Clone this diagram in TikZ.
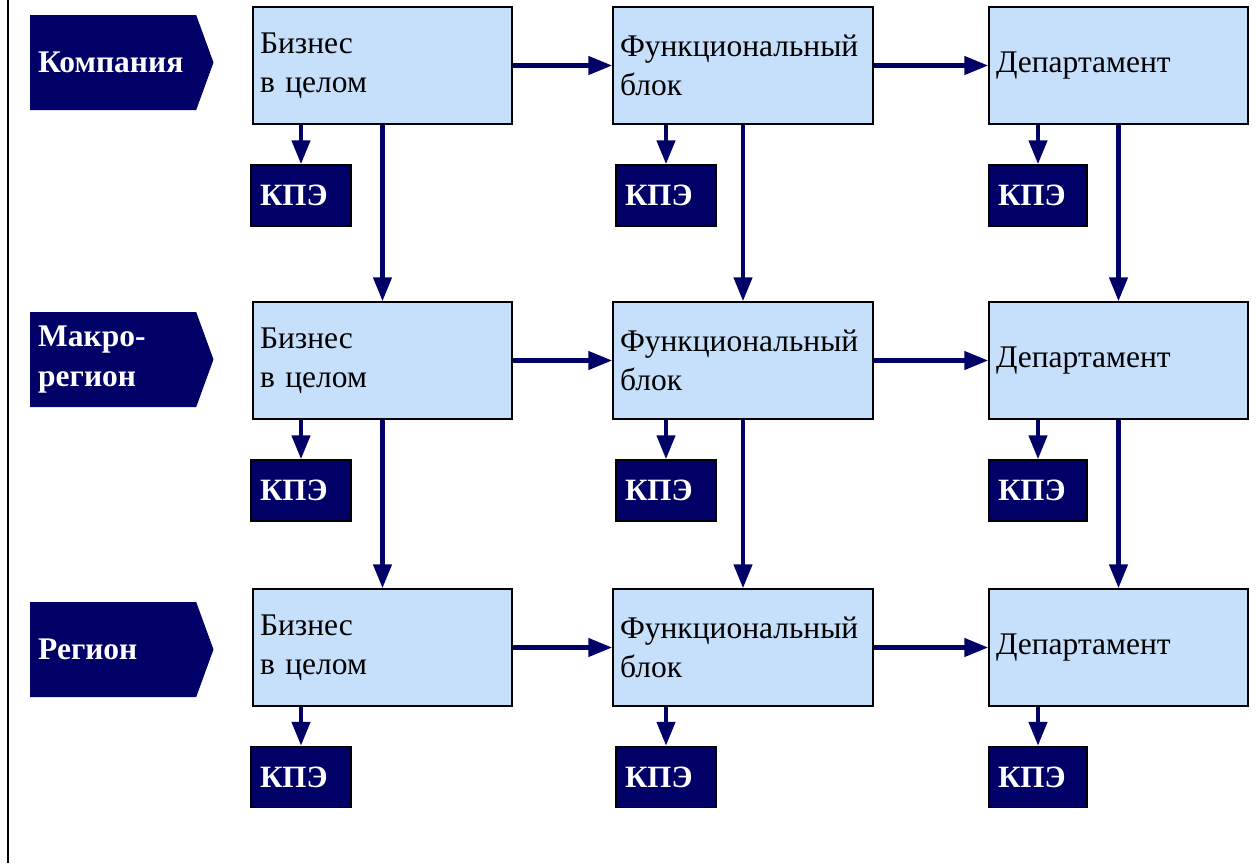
\documentclass[tikz,border=0pt]{standalone}
\usepackage{fontspec}
\setmainfont{Liberation Serif}
\usetikzlibrary{shapes.symbols,arrows.meta}
\definecolor{navy}{HTML}{000066}
\definecolor{paleblue}{HTML}{C6DFFB}
\begin{document}
\begin{tikzpicture}[x=1pt,y=-1pt,
    unit/.style={draw, line width=1.5pt, fill=paleblue, minimum height=117pt,
        inner xsep=7pt, align=left, font=\fontsize{31.5}{39}\selectfont},
    kpe/.style={draw, line width=1.5pt, fill=navy, text=white, minimum height=61pt,
        inner xsep=9pt, align=left, font=\fontsize{31}{34}\selectfont\bfseries},
    level/.style={signal, signal to=east, signal pointer angle=140, fill=navy,
        text=white, minimum height=95pt, text width=150pt, inner xsep=8pt,
        align=left, font=\fontsize{31.5}{40}\selectfont\bfseries},
    flow/.style={draw=navy, line width=4.5pt, -{Triangle[length=24pt,width=18pt]}}]
            \useasboundingbox (0,0) rectangle (1259,863);
            \draw [line width=1.5pt](8,0)--(8,863);
            %Levels
            \node [level, anchor=west] (lcomp)at(30,62.5){Компания};
            \node [level, anchor=west] (lmacro)at(30,359.5){Макро-\\регион};
            \node [level, anchor=west] (lreg)at(30,649.5){Регион};
            %Business
            \node [unit, text width=245pt] (bus1)at(382.5,65.5){Бизнес\\в целом};
            \node [unit, text width=245pt] (bus2)at(382.5,360.5){Бизнес\\в целом};
            \node [unit, text width=245pt] (bus3)at(382.5,647.5){Бизнес\\в целом};
            %Functional block
            \node [unit, text width=246pt] (fun1)at(743,65.5){Функциональный\\блок};
            \node [unit, text width=246pt] (fun2)at(743,360.5){Функциональный\\блок};
            \node [unit, text width=246pt] (fun3)at(743,647.5){Функциональный\\блок};
            %Department
            \node [unit, text width=245pt] (dep1)at(1118.5,65.5){Департамент};
            \node [unit, text width=245pt] (dep2)at(1118.5,360.5){Департамент};
            \node [unit, text width=245pt] (dep3)at(1118.5,647.5){Департамент};
            %KPI
            \node [kpe, text width=82pt] (kb1)at(301,195.5){КПЭ};
            \node [kpe, text width=82pt] (kb2)at(301,490.5){КПЭ};
            \node [kpe, text width=82pt] (kb3)at(301,777){КПЭ};
            \node [kpe, text width=82pt] (kf1)at(666,195.5){КПЭ};
            \node [kpe, text width=82pt] (kf2)at(666,490.5){КПЭ};
            \node [kpe, text width=82pt] (kf3)at(666,777){КПЭ};
            \node [kpe, text width=80pt] (kd1)at(1038,195.5){КПЭ};
            \node [kpe, text width=80pt] (kd2)at(1038,490.5){КПЭ};
            \node [kpe, text width=80pt] (kd3)at(1038,777){КПЭ};

            \draw [flow](bus1)--(fun1);
            \draw [flow](fun1)--(dep1);
            \draw [flow](bus2)--(fun2);
            \draw [flow](fun2)--(dep2);
            \draw [flow](bus3)--(fun3);
            \draw [flow](fun3)--(dep3);

            \draw [flow](bus1)--(bus2);
            \draw [flow](bus2)--(bus3);
            \draw [flow](fun1)--(fun2);
            \draw [flow](fun2)--(fun3);
            \draw [flow](dep1)--(dep2);
            \draw [flow](dep2)--(dep3);

            \draw [flow](bus1.south -| kb1)--(kb1);
            \draw [flow](bus2.south -| kb2)--(kb2);
            \draw [flow](bus3.south -| kb3)--(kb3);
            \draw [flow](fun1.south -| kf1)--(kf1);
            \draw [flow](fun2.south -| kf2)--(kf2);
            \draw [flow](fun3.south -| kf3)--(kf3);
            \draw [flow](dep1.south -| kd1)--(kd1);
            \draw [flow](dep2.south -| kd2)--(kd2);
            \draw [flow](dep3.south -| kd3)--(kd3);

        \end{tikzpicture}
\end{document}
